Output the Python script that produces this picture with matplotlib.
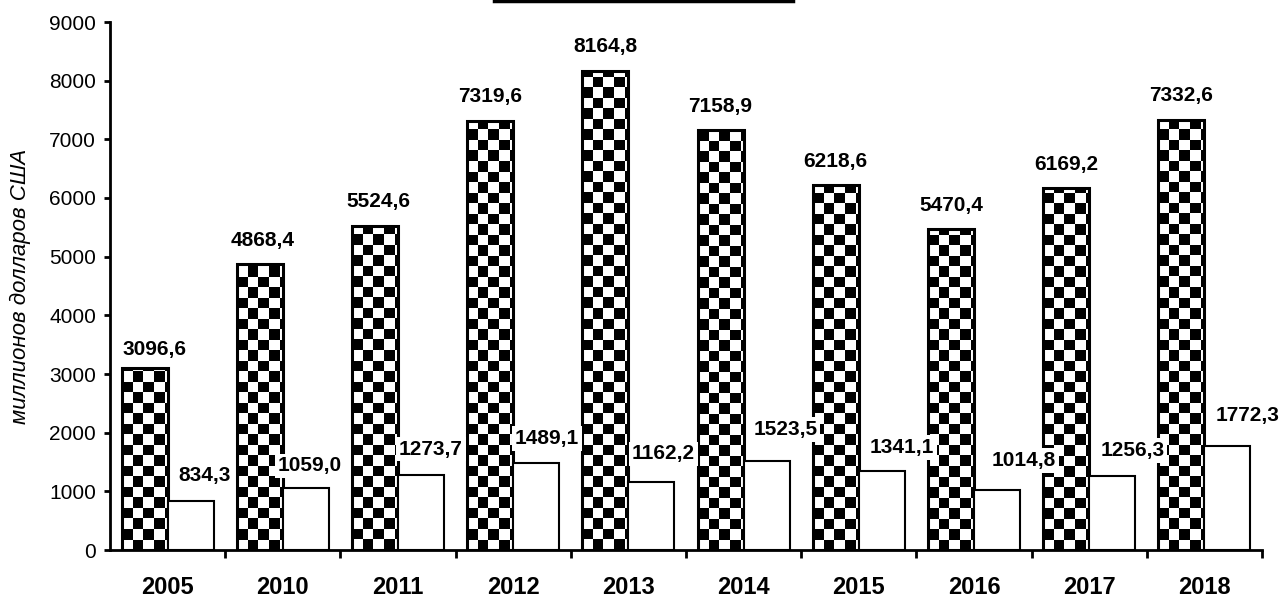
import numpy as np
import matplotlib.pyplot as plt
from matplotlib.lines import Line2D

plt.rcParams['font.family'] = ['Liberation Sans', 'DejaVu Sans']

# Data: two series per year
years = ['2005', '2010', '2011', '2012', '2013', '2014', '2015', '2016', '2017', '2018']
series_a = [3096.6, 4868.4, 5524.6, 7319.6, 8164.8, 7158.9, 6218.6, 5470.4, 6169.2, 7332.6]
series_b = [834.3, 1059.0, 1273.7, 1489.1, 1162.2, 1523.5, 1341.1, 1014.8, 1256.3, 1772.3]

# label nudges in pixels (x shift, height of label centre above the bar top)
nudge_a_dx = [10, 3, 3, 0, 0, 0, 0, 0, 0, 0]
nudge_a_dy = [19, 24, 24, 24, 24, 24, 24, 24, 24, 24]
nudge_b_dx = [14, 4, 10, 11, 12, 19, 20, 27, 20, 20]
nudge_b_dy = [26, 22, 26, 24, 28, 31, 24, 30, 26, 31]

fig = plt.figure(figsize=(12.84, 5.99), dpi=100)
ax = fig.add_axes([110 / 1284, 1 - 550 / 599, 1152 / 1284, 528 / 599])

x = np.arange(len(years))
w = 0.4
ax.set_xlim(-0.5, len(years) - 0.5)
ax.set_ylim(0, 9000)

# checkerboard fill for the first series, clipped to each bar
cell_px = 10.5
cell_w = cell_px / (1152 / len(years))
cell_h = cell_px / (528 / 9000)
bars_a = ax.bar(x - w / 2, series_a, w, facecolor='none', edgecolor='black', linewidth=2.2, zorder=3)
for rect, val in zip(bars_a, series_a):
    ny = int(np.ceil(val / cell_h))
    nx = int(np.ceil(w / cell_w))
    board = 1 - (np.indices((ny, nx)).sum(axis=0) % 2).astype(float)
    x0 = rect.get_x()
    im = ax.imshow(board, cmap='gray', vmin=0, vmax=1,
                   extent=[x0, x0 + nx * cell_w, 0, ny * cell_h], origin='lower',
                   aspect='auto', interpolation='nearest', zorder=2)
    im.set_clip_path(rect)

bars_b = ax.bar(x + w / 2, series_b, w, facecolor='white', edgecolor='black', linewidth=1.5, zorder=3)

def fmt(v):
    return f'{v:.1f}'.replace('.', ',')

for xi, v, dx, dy in zip(x, series_a, nudge_a_dx, nudge_a_dy):
    ax.annotate(fmt(v), (xi - w / 2, v), xytext=(dx, dy), textcoords='offset pixels',
                ha='center', va='center', fontsize=15, fontweight='bold', zorder=6,
                bbox=dict(facecolor='white', edgecolor='none', pad=2))
for xi, v, dx, dy in zip(x, series_b, nudge_b_dx, nudge_b_dy):
    ax.annotate(fmt(v), (xi + w / 2, v), xytext=(dx, dy), textcoords='offset pixels',
                ha='center', va='center', fontsize=15, fontweight='bold', zorder=6,
                bbox=dict(facecolor='white', edgecolor='none', pad=2))

ax.set_xlim(-0.5, len(years) - 0.5)
ax.set_ylim(0, 9000)
ax.set_yticks(np.arange(0, 9001, 1000))
ax.tick_params(axis='y', labelsize=15, length=4, width=2, direction='out', pad=6)
ax.set_xticks(x)
ax.set_xticklabels(years, fontsize=17, fontweight='bold')
ax.tick_params(axis='x', length=0, pad=19)
ax.set_xticks(np.arange(0.5, len(years) - 0.5 + 1e-9, 1.0), minor=True)
ax.tick_params(axis='x', which='minor', length=6, width=2, direction='out')

for s in ['top', 'right']:
    ax.spines[s].set_visible(False)
for s in ['left', 'bottom']:
    ax.spines[s].set_linewidth(2)

ax.set_ylabel('миллионов долларов США', fontsize=16, fontstyle='italic')
ax.yaxis.set_label_coords(-0.069, 0.5)

# line at top edge of the figure
fig.add_artist(Line2D([494 / 1284, 793 / 1284], [1 - 1 / 599, 1 - 1 / 599],
                      transform=fig.transFigure, color='black', linewidth=2.5))

fig.savefig('out.png', dpi=100)
